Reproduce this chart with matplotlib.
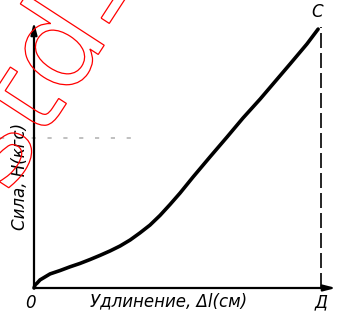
import matplotlib
matplotlib.use('Agg')
import matplotlib.pyplot as plt
import matplotlib.patheffects as pe
from matplotlib import font_manager

# curve, D = 1, C = 1
extension = [0, 0.004, 0.011, 0.021, 0.056, 0.091, 0.125, 0.160, 0.195, 0.230,
             0.265, 0.300, 0.335, 0.369, 0.404, 0.439, 0.474, 0.509, 0.554,
             0.613, 0.673, 0.728, 0.788, 0.833, 0.892, 0.951, 0.990]
force = [0, 0.012, 0.019, 0.031, 0.054, 0.067, 0.081, 0.094, 0.109, 0.125,
         0.142, 0.161, 0.184, 0.211, 0.241, 0.278, 0.320, 0.364, 0.425,
         0.502, 0.579, 0.651, 0.724, 0.782, 0.858, 0.935, 0.992]
d_point = 1.0
c_force = 1.0
grey_level = 0.575
xlabel = 'Удлинение, Δl(см)'
ylabel = 'Сила, Н(кгс)'
origin_label = '0'
d_label = 'Д'
c_label = 'С'


def pick_font(names):
    for n in names:
        try:
            font_manager.findfont(n, fallback_to_default=False)
            return n
        except Exception:
            pass
    return 'DejaVu Sans'


fam = pick_font(['Liberation Sans Narrow', 'DejaVu Sans'])
tfont = dict(family=fam, style='italic', size=12)

W, H = 338, 311
fig = plt.figure(figsize=(W / 100, H / 100), dpi=100)

# red scan watermark
wm = dict(fontsize=88, family='DejaVu Sans', color='none', rotation=57,
          rotation_mode='anchor', va='baseline', transform=fig.transFigure, zorder=0,
          path_effects=[pe.PathPatchEffect(edgecolor='red', facecolor='none', linewidth=0.9)])
fig.text(68 / W, 1 - 101 / H, 'd', ha='left', **wm)
fig.text(68 / W, 1 - 101 / H, 'st', ha='right', **wm)
fig.text(130 / W, 1 - 44 / H, '-a', ha='left', **wm)

x0, y0 = 34, 288
sx, sy = 287, 261
xmax, ymax = 1.06, 1.04
ax = fig.add_axes([x0 / W, (H - y0) / H, xmax * sx / W, ymax * sy / H])
ax.set_xlim(0, xmax)
ax.set_ylim(0, ymax)
ax.patch.set_alpha(0)
for s in ax.spines.values():
    s.set_visible(False)
ax.set_xticks([])
ax.set_yticks([])

arrow = dict(arrowstyle='-|>,head_length=0.7,head_width=0.18', lw=1.6, color='k',
             shrinkA=0, shrinkB=0)
ax.annotate('', xy=(302 / sx, 0), xytext=(0, 0), arrowprops=arrow, annotation_clip=False)
ax.annotate('', xy=(0, 266 / sy), xytext=(0, 0), arrowprops=arrow, annotation_clip=False)

ax.plot(extension, force, color='k', lw=2.6, solid_capstyle='round',
        solid_joinstyle='round', clip_on=False)
ax.plot([d_point, d_point], [0, c_force], color='k', lw=1.2, linestyle=(0, (9, 3)),
        clip_on=False)
ax.plot([-34 / sx, 0.37], [grey_level, grey_level], color='#b5b5b5', lw=1.2,
        linestyle=(0, (2.5, 7)), clip_on=False, zorder=0)

ax.annotate(origin_label, (0, 0), xytext=(-2.5, -4), textcoords='offset points',
            ha='center', va='top', **tfont)
ax.annotate(d_label, (d_point, 0), xytext=(0, -4), textcoords='offset points',
            ha='center', va='top', **tfont)
ax.annotate(c_label, (d_point, c_force), xytext=(-3, 4), textcoords='offset points',
            ha='center', va='bottom', **tfont)
ax.text((90 - x0) / sx, -4 / sy, xlabel, ha='left', va='top', **tfont)
ax.text(-14 / sx, (y0 - 176) / sy, ylabel, ha='center', va='center', rotation=90, **tfont)

fig.savefig('out.png', dpi=100)
